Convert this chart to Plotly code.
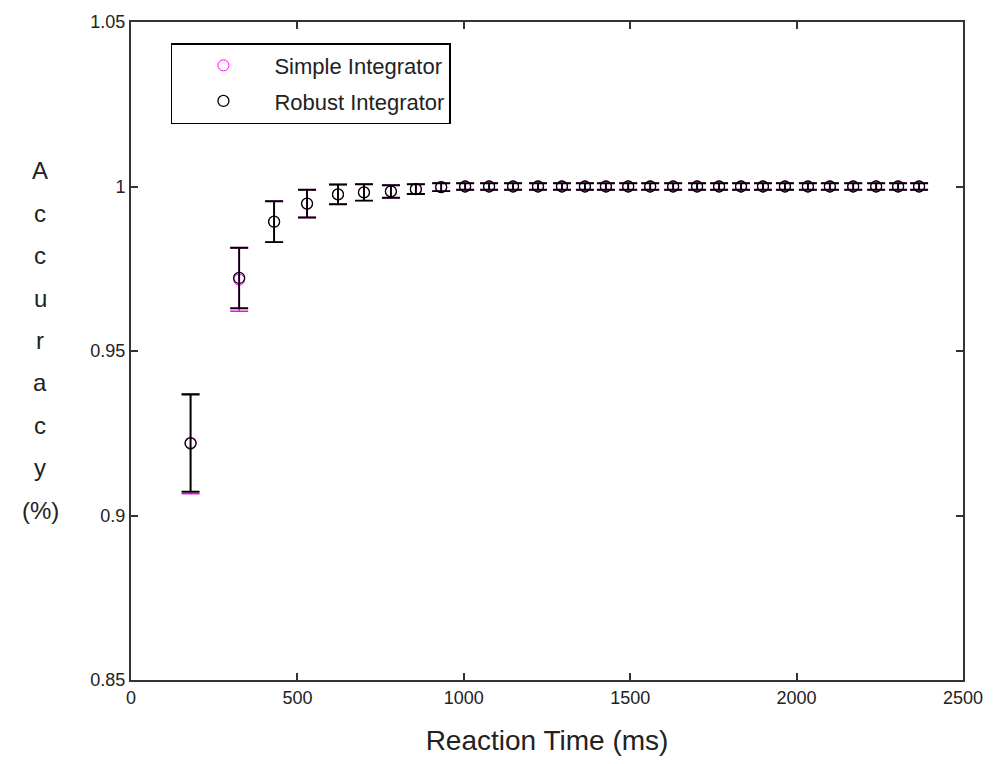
import plotly.graph_objects as go

reaction_time = [179, 325, 430, 529, 622, 700, 781, 856, 932, 1004, 1076, 1148, 1223, 1295, 1364,
                 1427, 1494, 1560, 1629, 1701, 1767, 1833, 1899, 1965, 2034, 2100, 2170, 2239, 2305, 2368]
robust_acc = [0.922, 0.9722, 0.9893, 0.9948, 0.9976, 0.9982, 0.9985, 0.9992, 0.9998] + [1.0] * 21
robust_err = [0.0148, 0.0092, 0.0062, 0.0042, 0.0030, 0.0025, 0.0019, 0.0015, 0.0012] + [0.0010] * 21
simple_acc = [0.9218, 0.9717, 0.9893, 0.9948, 0.9976, 0.9982, 0.9985, 0.9992, 0.9998] + [1.0] * 21
simple_err = [0.0152, 0.0096, 0.0062, 0.0042, 0.0030, 0.0025, 0.0019, 0.0015, 0.0012] + [0.0010] * 21

x_ticks = [0, 500, 1000, 1500, 2000, 2500]
y_ticks = [0.85, 0.9, 0.95, 1.0, 1.05]
y_tick_text = ["0.85", "0.9", "0.95", "1", "1.05"]
y_label_lines = ["A", "c", "c", "u", "r", "a", "c", "y", "(%)"]

fig = go.Figure()
fig.add_trace(go.Scatter(
    x=reaction_time, y=simple_acc, mode="markers", name="Simple Integrator",
    legendgroup="s",
    marker=dict(symbol="circle-open", size=11, color="#ff00ff", line=dict(width=1.0, color="#ff00ff")),
    error_y=dict(type="data", array=simple_err, visible=True, color="#ff00ff", thickness=1.4, width=9),
))
fig.add_trace(go.Scatter(
    x=reaction_time, y=robust_acc, mode="markers", name="Robust Integrator",
    legendgroup="r",
    marker=dict(symbol="circle-open", size=11, color="black", line=dict(width=1.3, color="black")),
    error_y=dict(type="data", array=robust_err, visible=True, color="black", thickness=1.9, width=9),
))

for i, t in enumerate(y_label_lines):
    fig.add_annotation(text=t, xref="paper", yref="paper", x=-0.109, y=0.774 - i * 0.0645,
                       showarrow=False, xanchor="center", yanchor="middle",
                       font=dict(family="Liberation Sans", size=24, color="#222"))

fig.update_layout(
    width=997, height=764,
    margin=dict(l=131, r=34, t=22, b=84),
    paper_bgcolor="white", plot_bgcolor="white",
    showlegend=True,
    legend=dict(x=0.048, y=0.968, xanchor="left", yanchor="top",
                bordercolor="black", borderwidth=1.5, bgcolor="white",
                font=dict(family="Liberation Sans", size=22, color="#222"),
                itemwidth=92, tracegroupgap=4),
    xaxis=dict(range=[0, 2500], tickvals=x_ticks, ticks="inside", ticklen=7, tickwidth=1.5,
               tickcolor="#333", showline=True, linecolor="#333", linewidth=2, mirror="allticks",
               showgrid=False, zeroline=False,
               tickfont=dict(family="Liberation Sans", size=18, color="#222"),
               title=dict(text="Reaction Time (ms)", standoff=24,
                          font=dict(family="Liberation Sans", size=28, color="#222"))),
    yaxis=dict(range=[0.85, 1.05], tickvals=y_ticks, ticktext=y_tick_text, ticks="inside",
               ticklen=7, tickwidth=1.5, tickcolor="#333", showline=True, linecolor="#333",
               linewidth=2, mirror="allticks", showgrid=False, zeroline=False,
               tickfont=dict(family="Liberation Sans", size=18, color="#222")),
)

fig.write_html("out.html")
